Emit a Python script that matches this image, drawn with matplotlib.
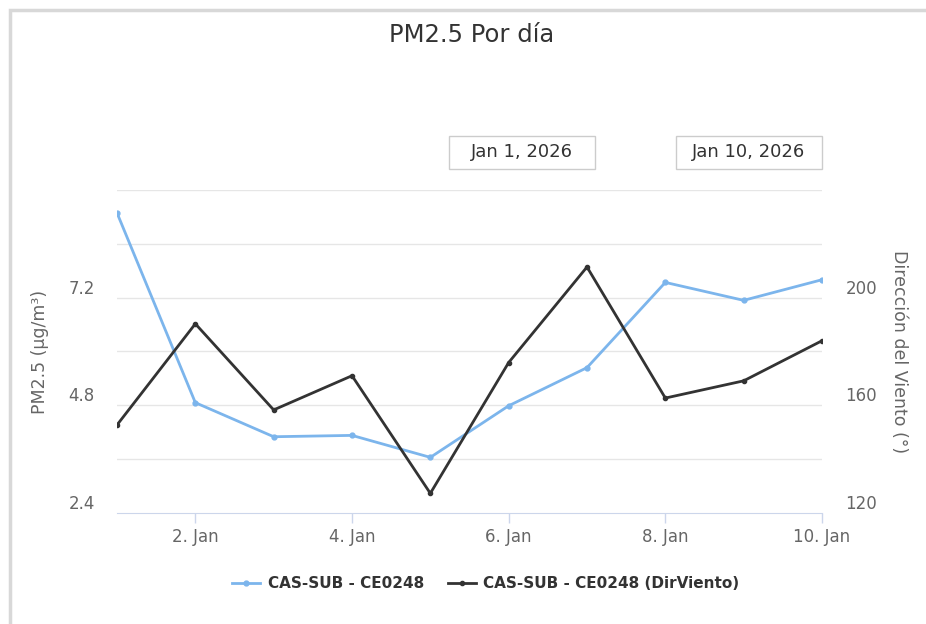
import matplotlib.pyplot as plt
from matplotlib.patches import Rectangle
from matplotlib.lines import Line2D

days = [1, 2, 3, 4, 5, 6, 7, 8, 9, 10]
pm25 = [9.09, 4.86, 4.10, 4.13, 3.64, 4.79, 5.64, 7.54, 7.14, 7.60]
dir_viento = [152.7, 190.3, 158.3, 171.0, 127.3, 175.9, 211.4, 162.7, 169.1, 184.0]
x_ticks = [2, 4, 6, 8, 10]
x_labels = ['2. Jan', '4. Jan', '6. Jan', '8. Jan', '10. Jan']
left_ticks = [2.4, 4.8, 7.2]
right_ticks = [120, 160, 200]

W, H = 926, 624
fig = plt.figure(figsize=(W / 100, H / 100), dpi=100)

# marco gris
fig.add_artist(Rectangle((10 / W, -0.1), 1.2, 1 - 10 / H + 0.1, transform=fig.transFigure,
                         fill=False, edgecolor='#d8d8d8', linewidth=2.5))

ax = fig.add_axes([117 / W, 1 - 513 / H, 705 / W, 323 / H])
ax2 = ax.twinx()

ax.set_xlim(1, 10)
ax.set_ylim(2.4, 9.6)
ax2.set_ylim(120, 240)

for y in [3.6, 4.8, 6.0, 7.2, 8.4, 9.6]:
    ax.axhline(y, color='#e6e6e6', linewidth=1, zorder=0)

ax.plot(days, pm25, color='#7cb5ec', linewidth=2, marker='o', markersize=3.5, zorder=3)
ax2.plot(days, dir_viento, color='#333333', linewidth=2, marker='o', markersize=3, zorder=3)

for a in (ax, ax2):
    for s in ['top', 'left', 'right', 'bottom']:
        a.spines[s].set_visible(False)
ax.spines['bottom'].set_visible(True)
ax.spines['bottom'].set_color('#ccd6eb')

ax.set_xticks(x_ticks)
ax.set_xticklabels(x_labels)
ax.tick_params(axis='x', colors='#ccd6eb', length=7, width=1, labelcolor='#666666',
               labelsize=12, pad=4)
ax.set_yticks(left_ticks)
ax.set_yticklabels([f'{v:.1f}' for v in left_ticks])
ax.tick_params(axis='y', length=0, labelsize=12, labelcolor='#666666', pad=16)
ax2.set_yticks(right_ticks)
ax2.tick_params(axis='y', length=0, labelsize=12, labelcolor='#666666', pad=17)
for lbl in ax.get_yticklabels() + ax2.get_yticklabels():
    lbl.set_verticalalignment('bottom')

ax.set_ylabel('PM2.5 (µg/m³)', fontsize=12.5, color='#666666')
ax2.set_ylabel('Dirección del Viento (°)', fontsize=12.5, color='#666666',
               rotation=270, labelpad=22)
ax.yaxis.set_label_coords(-68 / 705, 0.5)

fig.text(472 / W, 1 - 35 / H, 'PM2.5 Por día', fontsize=17.5, color='#333333',
         ha='center', va='center')

# cajas de rango de fechas
for x0, txt in [(449, 'Jan 1, 2026'), (676, 'Jan 10, 2026')]:
    fig.add_artist(Rectangle((x0 / W, 1 - 169 / H), 146 / W, 33 / H, transform=fig.transFigure,
                             fill=False, edgecolor='#cccccc', linewidth=1))
    fig.text((x0 + 73) / W, 1 - 152 / H, txt, fontsize=13, color='#333333',
             ha='center', va='center')

# leyenda
handles = [Line2D([], [], color='#7cb5ec', linewidth=2, marker='o', markersize=3.5),
           Line2D([], [], color='#333333', linewidth=2, marker='o', markersize=3)]
fig.legend(handles, ['CAS-SUB - CE0248', 'CAS-SUB - CE0248 (DirViento)'],
           loc='center', bbox_to_anchor=(486 / W, 1 - 584 / H), ncol=2, frameon=False,
           prop={'weight': 'bold', 'size': 11}, labelcolor='#333333',
           handlelength=1.8, handletextpad=0.5, columnspacing=1.6)

fig.savefig('out.png', dpi=100)
